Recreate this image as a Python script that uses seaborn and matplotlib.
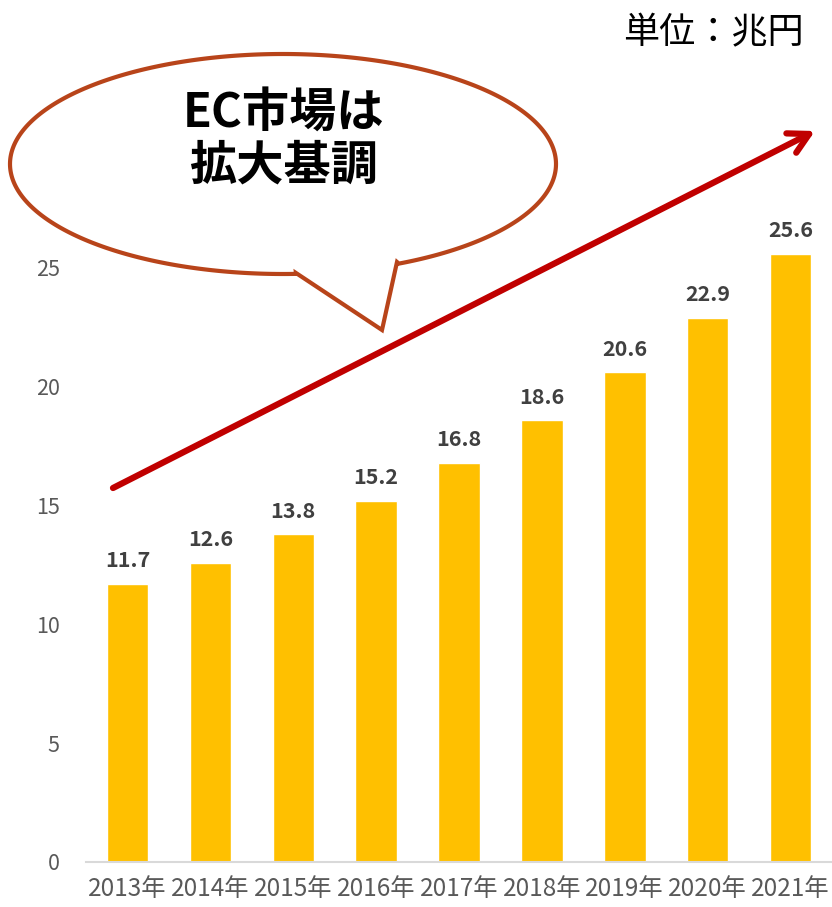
import numpy as np
import pandas as pd
import seaborn as sns
import matplotlib
matplotlib.use("Agg")
import matplotlib.pyplot as plt
from matplotlib.path import Path
from matplotlib.patches import PathPatch

years = ["2013年", "2014年", "2015年", "2016年", "2017年", "2018年", "2019年", "2020年", "2021年"]
values = [11.7, 12.6, 13.8, 15.2, 16.8, 18.6, 20.6, 22.9, 25.6]
yticks = [0, 5, 10, 15, 20, 25]
unit_label = "単位：兆円"
bubble_text = "EC市場は\n拡大基調"

sns.set_theme(style="white")
plt.rcParams["font.family"] = ["Noto Sans CJK JP", "DejaVu Sans"]

W, H = 832, 907
fig = plt.figure(figsize=(W / 100, H / 100), dpi=100)
ax = fig.add_axes([86 / W, 45 / H, 1 - 86 / W, 0.786])

df = pd.DataFrame({"year": years, "value": values})
sns.barplot(data=df, x="year", y="value", color="#FFC000", saturation=1, width=0.5, ax=ax)
ax.set_ylim(0, 30)
ax.set_xlim(-0.5, len(years) - 0.5)
ax.set_yticks(yticks)
ax.set_xlabel("")
ax.set_ylabel("")
for s in ["left", "right", "top"]:
    ax.spines[s].set_visible(False)
ax.spines["bottom"].set_color("#D9D9D9")
ax.spines["bottom"].set_linewidth(1.5)
ax.tick_params(axis="both", length=0)
ax.tick_params(axis="y", labelsize=15.5, labelcolor="#595959", pad=19)
ax.tick_params(axis="x", labelsize=17.5, labelcolor="#595959", pad=10)
ax.bar_label(ax.containers[0], labels=[f"{v:.1f}" for v in values], padding=9,
             fontsize=15.5, fontweight="bold", color="#404040")

# overlay in pixel coordinates for the decorations
ov = fig.add_axes([0, 0, 1, 1], facecolor="none")
ov.set_xlim(0, W)
ov.set_ylim(H, 0)
ov.axis("off")

# trend arrow
ov.annotate("", xy=(815, 131), xytext=(113, 488),
            arrowprops=dict(arrowstyle="->,head_length=1.2,head_width=0.65",
                            color="#C00000", lw=4.5, shrinkA=0, shrinkB=0))

# speech bubble
cx, cy, a, b = 283, 164, 273, 110
lb = (296, 273)
tip = (382, 330)
rb = (397, 262)
ang_r = np.arctan2((rb[1] - cy) / b, (rb[0] - cx) / a)
ang_l = np.arctan2((lb[1] - cy) / b, (lb[0] - cx) / a)
t = np.linspace(ang_r, ang_l - 2 * np.pi, 400)
pts = [(cx + a * np.cos(tt), cy + b * np.sin(tt)) for tt in t]
pts = [rb] + pts + [lb, tip, rb]
codes = [Path.MOVETO] + [Path.LINETO] * (len(pts) - 2) + [Path.CLOSEPOLY]
bubble = PathPatch(Path(pts, codes), facecolor="white", edgecolor="#B8441A", lw=3, joinstyle="miter")
ov.add_patch(bubble)
ov.text(284, 139, bubble_text, ha="center", va="center", fontsize=34, fontweight="bold",
        color="black", linespacing=1.12)

ov.text(804, 33, unit_label, ha="right", va="center", fontsize=26, color="black")

fig.savefig("out.png", dpi=100)
